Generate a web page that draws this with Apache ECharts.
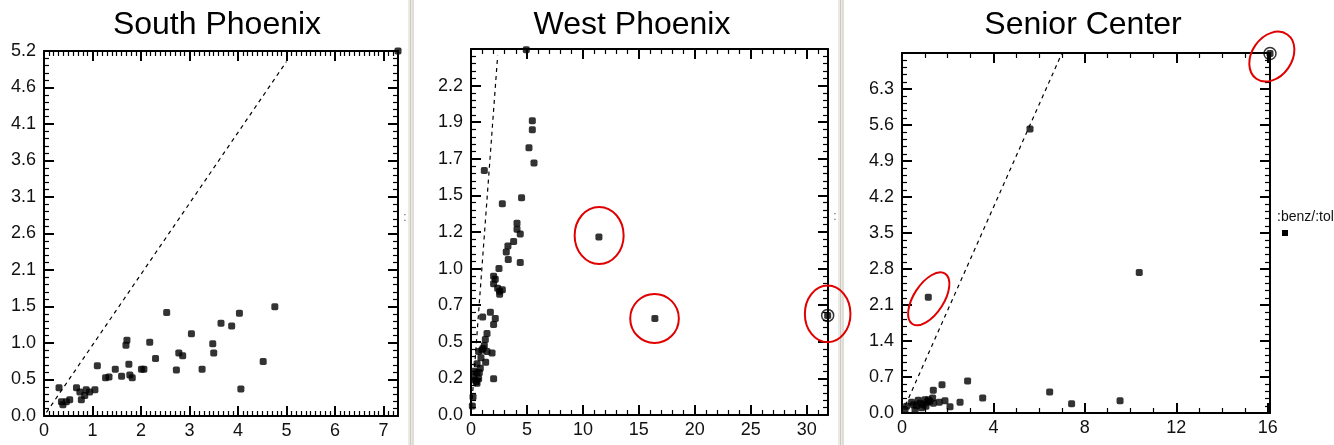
<!DOCTYPE html>
<html><head><meta charset="utf-8">
<script src="https://cdn.jsdelivr.net/npm/echarts@6/dist/echarts.min.js"></script>
<style>html,body{margin:0;padding:0;background:#fff}#c{width:1334px;height:445px}</style>
</head><body><div id="c"></div>
<script>
const titles = ['South Phoenix', 'West Phoenix', 'Senior Center'];
const legendLabel = ':benz/:tol';

// [x, y] pairs
const southPoints = [[0.31,0.40],[0.36,0.20],[0.39,0.16],[0.46,0.20],[0.53,0.23],[0.67,0.40],[0.74,0.34],[0.77,0.23],[0.84,0.29],[0.87,0.37],[0.94,0.34],[1.05,0.37],[1.10,0.71],[1.27,0.54],[1.34,0.55],[1.47,0.66],[1.60,0.56],[1.69,1.00],[1.71,1.07],[1.75,0.73],[1.77,0.58],[1.82,0.54],[2.01,0.66],[2.06,0.66],[2.18,1.04],[2.30,0.81],[2.53,1.46],[2.73,0.65],[2.78,0.89],[2.86,0.85],[3.04,1.16],[3.26,0.66],[3.48,1.02],[3.50,0.89],[3.65,1.31],[3.87,1.27],[4.03,1.45],[4.06,0.38],[4.52,0.77],[4.76,1.54],[7.30,5.15]];
const westPoints = [[4.94,2.42],[5.48,1.95],[5.48,1.89],[5.18,1.77],[5.63,1.67],[1.19,1.62],[4.52,1.44],[2.80,1.40],[4.11,1.27],[4.11,1.23],[4.40,1.20],[3.81,1.15],[3.30,1.12],[3.15,1.08],[3.33,1.03],[4.40,1.01],[2.50,0.97],[2.02,0.92],[2.17,0.90],[2.02,0.87],[2.38,0.84],[2.56,0.82],[2.80,0.83],[2.56,0.80],[11.43,1.18],[16.43,0.64],[31.87,0.66],[1.73,0.68],[1.04,0.65],[2.17,0.64],[2.02,0.60],[1.43,0.54],[1.28,0.50],[1.19,0.46],[0.98,0.43],[0.68,0.42],[1.43,0.42],[1.88,0.41],[0.89,0.38],[1.31,0.35],[0.54,0.34],[0.83,0.31],[0.30,0.29],[0.54,0.28],[0.24,0.25],[0.68,0.24],[0.39,0.23],[0.54,0.21],[2.02,0.24],[0.18,0.12],[0.12,0.06],[0.48,0.22],[0.74,0.28],[1.07,0.44]];
const seniorPoints = [[16.10,6.99],[5.60,5.52],[10.38,2.73],[1.15,2.25],[2.87,0.62],[1.75,0.55],[1.37,0.44],[6.46,0.41],[3.53,0.29],[2.54,0.21],[1.88,0.24],[1.63,0.21],[2.10,0.12],[7.42,0.18],[9.54,0.24],[0.13,0.06],[0.20,0.13],[0.50,0.16],[0.57,0.06],[0.71,0.25],[0.79,0.19],[0.93,0.16],[1.00,0.26],[1.10,0.21],[1.22,0.23],[1.34,0.29],[1.37,0.19],[0.86,0.10],[0.64,0.14],[0.42,0.21],[1.05,0.13],[1.15,0.26]];

// highlighted (ringed) samples
const westRing = [[31.87,0.66]];
const seniorRing = [[16.10,6.99]];

// 1:1 reference lines
const southOneToOne = [[0.05,0.05],[5.0,5.0]];
const westOneToOne = [[0,0],[2.38,2.38]];
const seniorOneToOne = [[0.15,0.15],[7.0,7.0]];

// tick labels
const southXTicks = ['0','1','2','3','4','5','6','7'];
const southYTicks = ['0.0','0.5','1.0','1.5','2.1','2.6','3.1','3.6','4.1','4.6','5.2'];
const westXTicks = ['0','5','10','15','20','25','30'];
const westYTicks = ['0.0','0.2','0.5','0.7','1.0','1.2','1.5','1.7','1.9','2.2',''];
const seniorXTicks = ['0','4','8','12','16'];
const seniorYTicks = ['0.0','0.7','1.4','2.1','2.8','3.5','4.2','4.9','5.6','6.3',''];

// axis ranges
const southX = {min:0, max:7.3, interval:1, minor:10, labels:southXTicks};
const southY = {min:0, max:5.15, interval:0.515, minor:5, labels:southYTicks};
const westX = {min:0, max:31.9, interval:5, minor:5, labels:westXTicks};
const westY = {min:0, max:2.425, interval:0.2425, minor:5, labels:westYTicks};
const seniorX = {min:0, max:16.1, interval:4, minor:4, labels:seniorXTicks};
const seniorY = {min:0, max:7.0, interval:0.7, minor:5, labels:seniorYTicks};

// red annotation ellipses: data-space centre, pixel radii, rotation (deg)
const westNotes = [{c:[11.45,1.19], rx:24.5, ry:28.5, rot:0},{c:[16.4,0.64], rx:24.3, ry:24.5, rot:0},{c:[31.87,0.67], rx:22.8, ry:28.3, rot:0}];
const seniorNotes = [{c:[1.17,2.22], rx:30, ry:15, rot:57},{c:[16.18,6.93], rx:27, ry:20, rot:55}];

const FONT = '"Liberation Sans",Arial,sans-serif';
const grids = [
  {left:44, top:51, width:354, height:365},
  {left:471, top:49, width:357, height:366},
  {left:902, top:53, width:368, height:360}
];
const titleCenters = [217, 632, 1083];

function fmt(spec) {
  return function (v) {
    const k = v / spec.interval;
    const r = Math.round(k);
    if (Math.abs(k - r) > 1e-3) return '';
    return spec.labels[r] !== undefined ? spec.labels[r] : '';
  };
}
function axis(spec, g, pos, showLabel) {
  return {
    type:'value', gridIndex:g, position:pos, min:spec.min, max:spec.max, interval:spec.interval,
    axisLine:{show:true, onZero:false, lineStyle:{color:'#000', width:2}},
    axisTick:{show:true, inside:true, length:10, lineStyle:{color:'#000', width:2}},
    minorTick:{show:true, splitNumber:spec.minor, length:5, lineStyle:{color:'#000', width:1.2}},
    splitLine:{show:false}, minorSplitLine:{show:false},
    axisLabel:{show:showLabel, margin:(pos==='bottom'?6:8), color:'#111', fontSize:18, fontFamily:FONT, formatter:fmt(spec), showMinLabel:true, showMaxLabel:true, hideOverlap:false}
  };
}
const xs = [southX, westX, seniorX], ys = [southY, westY, seniorY];
const xAxis = [], yAxis = [];
for (let g = 0; g < 3; g++) {
  xAxis.push(axis(xs[g], g, 'bottom', true));
  xAxis.push(axis(xs[g], g, 'top', false));
  yAxis.push(axis(ys[g], g, 'left', true));
  yAxis.push(axis(ys[g], g, 'right', false));
}
const pts = [southPoints, westPoints, seniorPoints];
const lines = [southOneToOne, westOneToOne, seniorOneToOne];
const series = [];
for (let g = 0; g < 3; g++) {
  series.push({type:'scatter', xAxisIndex:2*g, yAxisIndex:2*g, data:pts[g], symbol:'roundRect', symbolSize:7, clip:false, itemStyle:{color:'#000'}, z:3});
  series.push({type:'line', xAxisIndex:2*g, yAxisIndex:2*g, data:lines[g], symbol:'none', lineStyle:{color:'#000', width:1.2, type:[4,4]}, z:2});
}
series.push({type:'scatter', xAxisIndex:2, yAxisIndex:2, data:westRing, symbol:'circle', symbolSize:12, clip:false, itemStyle:{color:'none', borderColor:'#000', borderWidth:1.5}, z:4});
series.push({type:'scatter', xAxisIndex:4, yAxisIndex:4, data:seniorRing, symbol:'circle', symbolSize:12, clip:false, itemStyle:{color:'none', borderColor:'#000', borderWidth:1.5}, z:4});

const chart = echarts.init(document.getElementById('c'), null, {renderer:'canvas'});
chart.setOption({animation:false, backgroundColor:'#fff', grid:grids, xAxis, yAxis, series});

const graphic = [];
titles.forEach((t, i) => graphic.push({type:'text', x:titleCenters[i], y:25, style:{text:t, fontSize:32, fontFamily:'"Liberation Sans",Arial,sans-serif', fill:'#000', align:'center', verticalAlign:'middle'}}));
[408, 838].forEach(x => {
  graphic.push({type:'rect', shape:{x:x, y:0, width:6, height:445}, style:{fill:'#ebe9e4'}});
  graphic.push({type:'rect', shape:{x:x+2, y:0, width:1, height:445}, style:{fill:'#cdc9c0'}});
  graphic.push({type:'rect', shape:{x:x+4.5, y:0, width:1, height:445}, style:{fill:'#d6d2ca'}});
});
[[405,218],[835,217]].forEach(p => graphic.push({type:'text', x:p[0], y:p[1], style:{text:':', fontSize:12, fontFamily:'"Liberation Sans",Arial', fill:'#666', align:'center', verticalAlign:'middle'}}));
graphic.push({type:'text', x:1277, y:217, style:{text:legendLabel, fontSize:14, fontFamily:'"Liberation Sans",Arial,sans-serif', fill:'#111', align:'left', verticalAlign:'middle'}});
graphic.push({type:'rect', shape:{x:1282, y:230, width:6, height:6}, style:{fill:'#000'}});
function addNotes(notes, seriesIndex) {
  notes.forEach(n => {
    const p = chart.convertToPixel({seriesIndex}, n.c);
    graphic.push({type:'ellipse', x:p[0], y:p[1], rotation:n.rot*Math.PI/180, shape:{cx:0, cy:0, rx:n.rx, ry:n.ry}, style:{fill:'none', stroke:'#e00000', lineWidth:2}, z:10});
  });
}
addNotes(westNotes, 2);
addNotes(seniorNotes, 4);
chart.setOption({graphic});
</script></body></html>
